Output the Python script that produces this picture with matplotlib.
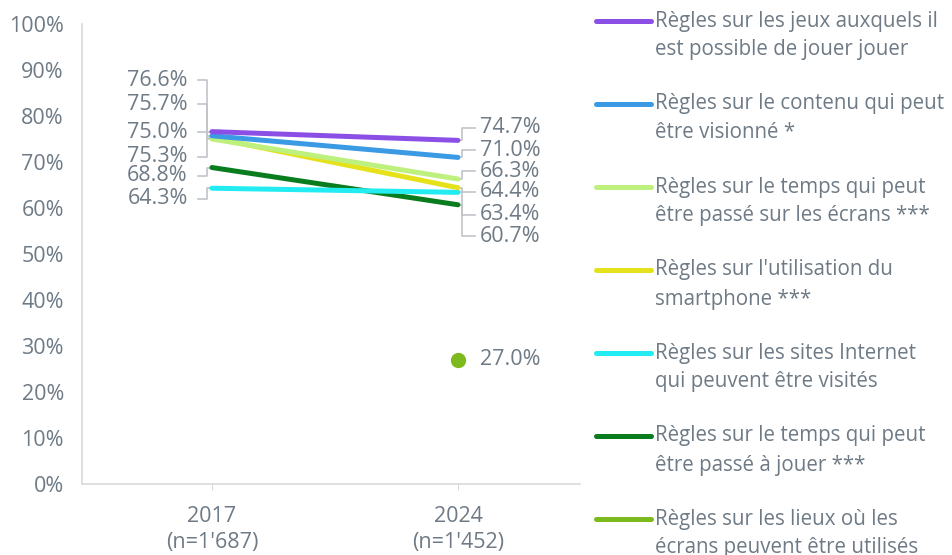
import matplotlib
matplotlib.use("Agg")
import matplotlib.pyplot as plt
from matplotlib.lines import Line2D

plt.rcParams['font.family'] = ['Open Sans', 'DejaVu Sans']

# data
years = ["2017\n(n=1'687)", "2024\n(n=1'452)"]
series_names = [
    "Règles sur les jeux auxquels il\nest possible de jouer jouer",
    "Règles sur le contenu qui peut\nêtre visionné *",
    "Règles sur le temps qui peut\nêtre passé sur les écrans ***",
    "Règles sur l'utilisation du\nsmartphone ***",
    "Règles sur les sites Internet\nqui peuvent être visités",
    "Règles sur le temps qui peut\nêtre passé à jouer ***",
    "Règles sur les lieux où les\nécrans peuvent être utilisés",
]
values_2017 = [76.6, 75.7, 75.0, 75.3, 64.3, 68.8]
values_2024 = [74.7, 71.0, 66.3, 64.4, 63.4, 60.7]
lieux_2024 = 27.0

colors = ['#8b4fe6', '#3b9ae4', '#bdf07c', '#e5e21c', '#22ecf2', '#097d1e', '#7cba1e']
text_col = '#6e7a85'
axis_col = '#d9d9d9'
leader_col = '#c0c4c8'
fs = 15.5

# label positions (in % units) to avoid overlap
left_label_y = [87.8, 82.6, 76.5, 71.1, 62.0, 67.0]
right_label_y = [77.4, 72.6, 68.0, 63.5, 58.5, 53.9]

fig = plt.figure(figsize=(9.52, 5.55), dpi=100)
ax = fig.add_axes([82 / 952, 1 - 484 / 555, 498 / 952, 460 / 555])

x = [0, 1]
# draw in reverse so purple ends on top
for i in reversed(range(len(values_2017))):
    ax.plot(x, [values_2017[i], values_2024[i]], color=colors[i], lw=3.6,
            solid_capstyle='round', zorder=3)
ax.plot([1], [lieux_2024], 'o', color=colors[6], ms=10, zorder=3)

# left labels with leaders
for v, ly in zip(values_2017, left_label_y):
    ax.text(-0.098, ly, f"{v:.1f}%", ha='right', va='center', fontsize=fs,
            color=text_col)
    ax.plot([-0.058, -0.018, -0.018, 0], [ly, ly, v, v], color=leader_col,
            lw=1.2, zorder=2, clip_on=False)

# right labels with leaders
for v, ly in zip(values_2024, right_label_y):
    ax.text(1.089, ly, f"{v:.1f}%", ha='left', va='center', fontsize=fs,
            color=text_col)
    ax.plot([1, 1.016, 1.016, 1.069], [v, v, ly, ly], color=leader_col,
            lw=1.2, zorder=2, clip_on=False)
ax.text(1.089, lieux_2024, f"{lieux_2024:.1f}%", ha='left', va='center',
        fontsize=fs, color=text_col)

ax.set_xlim(-0.528, 1.496)
ax.set_ylim(0, 100)
ax.set_xticks(x)
ax.set_xticklabels(years, fontsize=fs, color=text_col, linespacing=1.3)
ax.set_yticks(range(0, 101, 10))
ax.set_yticklabels([f"{t}%" for t in range(0, 101, 10)], fontsize=fs,
                   color=text_col)
ax.tick_params(axis='y', length=0, pad=13)
ax.tick_params(axis='x', length=4, color=axis_col, pad=12)
for s in ['top', 'right']:
    ax.spines[s].set_visible(False)
for s in ['left', 'bottom']:
    ax.spines[s].set_color(axis_col)
    ax.spines[s].set_linewidth(1.2)

# legend drawn by hand
for k, name in enumerate(series_names):
    yp = 21 + k * 83
    yf = 1 - yp / 555
    fig.add_artist(Line2D([596 / 952, 651 / 952], [yf, yf], color=colors[k],
                          lw=3.6, solid_capstyle='round'))
    for j, line in enumerate(name.split("\n")):
        fig.text(655 / 952, 1 - (yp + j * 29) / 555, line, ha='left',
                 va='center', fontsize=14.8, color=text_col)

fig.savefig("out.png", dpi=100)
